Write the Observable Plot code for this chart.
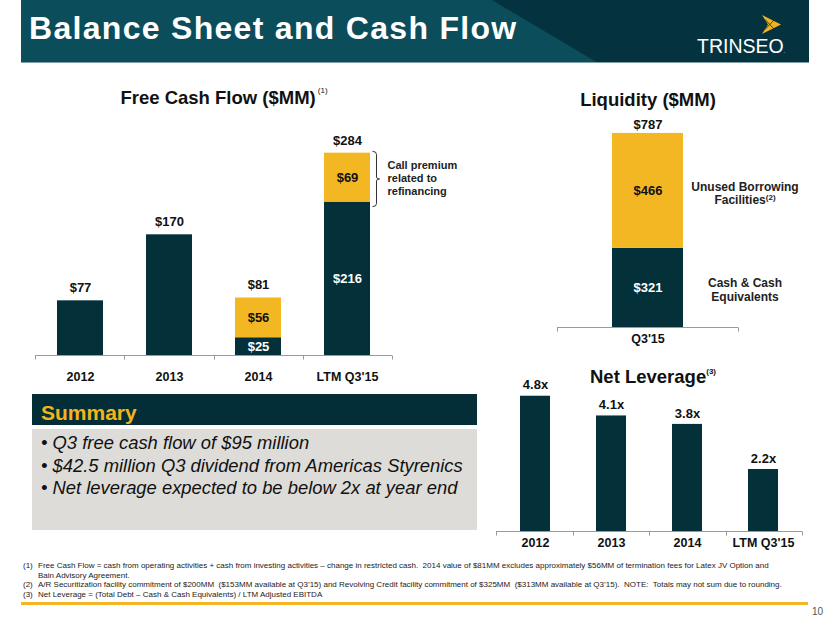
<!DOCTYPE html>
<html>
<head>
<meta charset="utf-8">
<script src="https://cdn.jsdelivr.net/npm/d3@7"></script>
<script src="https://cdn.jsdelivr.net/npm/@observablehq/plot@0.6"></script>
<style>
  body { margin: 0; background: #fff; font-family: Arial, "Liberation Sans", Helvetica, sans-serif; }
  #page { position: relative; width: 830px; height: 623px; overflow: hidden; background: #fff; }
  .abs { position: absolute; }
  .ctitle { position: absolute; font-weight: bold; font-size: 18.5px; color: #111; white-space: nowrap; transform: translate(-50%, -50%); line-height: 1; }
  .ctitle sup { font-size: 8px; font-weight: normal; vertical-align: top; position: relative; top: -2px; margin-left: 2px; }
  .side { position: absolute; font-weight: bold; font-size: 12px; color: #222; text-align: center; white-space: nowrap; transform: translate(-50%, 0); line-height: 13px; }
  .side sup { font-size: 8px; vertical-align: top; position: relative; top: -3px; }
  .fn { white-space: nowrap; }
  .fn .n { display: inline-block; width: 15px; vertical-align: top; }
  .fn .t { display: inline-block; vertical-align: top; }
</style>
</head>
<body>
<div id="page">
  <!-- header banner -->
  <div class="abs" style="left:21px;top:0;width:788px;height:63px;background:#0b4d5b;"></div>
  <div class="abs" style="left:21px;top:0;width:788px;height:63px;background:#04333f;clip-path:polygon(471px 0,788px 0,788px 63px,577px 63px);"></div>
  <div class="abs" style="left:21px;top:62px;width:788px;height:1px;background:#7f9ea6;"></div>
  <div class="abs" style="left:29px;top:10px;font-size:32px;font-weight:bold;color:#fff;letter-spacing:1.3px;line-height:36px;white-space:nowrap;">Balance Sheet and Cash Flow</div>
  <svg class="abs" style="left:762px;top:15px;" width="20" height="19" viewBox="0 0 20 19">
    <polygon points="0,0 19,9.5 0,19 6,9.5" fill="#f2b31b"/>
    <path d="M3,4.5 L12,14 M3,14.5 L12,5" stroke="#04333f" stroke-width="0.8"/>
  </svg>
  <div class="abs" style="left:697px;top:36px;font-size:19.5px;color:#fff;line-height:20px;white-space:nowrap;">TRINSEO<span style="font-size:5px;">.</span></div>

  <div id="fcf" class="abs" style="left:0;top:80px;width:480px;height:310px;"></div>
  <div id="liq" class="abs" style="left:480px;top:80px;width:350px;height:280px;"></div>
  <div id="lev" class="abs" style="left:480px;top:360px;width:350px;height:200px;"></div>

  <div class="ctitle" style="left:224px;top:98px;">Free Cash Flow ($MM)<sup>(1)</sup></div>
  <div class="ctitle" style="left:648px;top:100px;">Liquidity ($MM)</div>
  <div class="ctitle" style="left:653px;top:377px;">Net Leverage<sup style="font-weight:bold;margin-left:0;top:0;">(3)</sup></div>

  <div class="side" style="left:745px;top:181px;">Unused Borrowing<br>Facilities<sup>(2)</sup></div>
  <div class="side" style="left:745px;top:276px;line-height:14px;">Cash &amp; Cash<br>Equivalents</div>

  <!-- summary -->
  <div class="abs" style="left:32px;top:394px;width:445px;height:31px;background:#032d37;"></div>
  <div class="abs" style="left:41px;top:397px;font-size:21px;font-weight:bold;color:#f2b41a;line-height:31px;">Summary</div>
  <div class="abs" style="left:32px;top:429px;width:445px;height:101px;background:#dddcd8;"></div>
  <div class="abs" id="bullets" style="left:41px;top:432px;font-size:18.4px;font-style:italic;color:#111;line-height:22.5px;white-space:nowrap;"></div>

  <!-- footnotes -->
  <div class="abs" id="notes" style="left:23px;top:561px;font-size:8px;color:#222;line-height:9.7px;"></div>
  <div class="abs" style="left:21px;top:602px;width:787px;height:2.5px;background:#f4b526;"></div>
  <div class="abs" style="left:812px;top:606px;font-size:10px;color:#555;">10</div>
</div>

<script>
// ---------- data ----------
const fcfCategories = ["2012", "2013", "2014", "LTM Q3'15"];
const fcfCore = [77, 170, 25, 216];
const fcfOneTime = [0, 0, 56, 69];
const fcfTotals = [77, 170, 81, 284];
const fcfCallout = "Call premium\nrelated to\nrefinancing";

const liqCategories = ["Q3'15"];
const liqCash = [321];
const liqUnused = [466];
const liqTotals = [787];

const levCategories = ["2012", "2013", "2014", "LTM Q3'15"];
const levValues = [4.8, 4.1, 3.8, 2.2];

const summaryBullets = [
  "Q3 free cash flow of $95 million",
  "$42.5 million Q3 dividend from Americas Styrenics",
  "Net leverage expected to be below 2x at year end"
];
const footnotes = [
  ["(1)", "Free Cash Flow = cash from operating activities + cash from investing activities \u2013 change in restricted cash.&nbsp; 2014 value of $81MM excludes approximately $56MM of termination fees for Latex JV Option and<br>Bain Advisory Agreement."],
  ["(2)", "A/R Securitization facility commitment of $200MM&nbsp; ($153MM available at Q3\u201915) and Revolving Credit facility commitment of $325MM&nbsp; ($313MM available at Q3\u201915).&nbsp; NOTE:&nbsp; Totals may not sum due to rounding."],
  ["(3)", "Net Leverage = (Total Debt \u2013 Cash &amp; Cash Equivalents) / LTM Adjusted EBITDA"]
];

// ---------- style ----------
const DARK = "#04303a", GOLD = "#f3b723", AXIS = "#9a9a9a";
const FONT = "Arial, 'Liberation Sans', Helvetica, sans-serif";
const svgStyle = {fontFamily: FONT, fontSize: "12.5px", fontWeight: "bold", color: "#111", background: "transparent", overflow: "visible"};

function baseline(n) {
  return (index, scales, values, dims) => {
    const x0 = dims.marginLeft, x1 = dims.width - dims.marginRight;
    const y0 = dims.height - dims.marginBottom + 0.5;
    const g = d3.create("svg:g").attr("stroke", AXIS).attr("stroke-width", 1).attr("fill", "none");
    g.append("line").attr("x1", x0).attr("x2", x1).attr("y1", y0).attr("y2", y0);
    for (let k = 0; k <= n; k++) {
      const x = Math.round(x0 + (x1 - x0) * k / n) + 0.5;
      g.append("line").attr("x1", x).attr("x2", x).attr("y1", y0).attr("y2", y0 + 4);
    }
    return g.node();
  };
}

// ---------- Free cash flow ----------
const fcfRows = [];
fcfCategories.forEach((c, i) => {
  fcfRows.push({cat: c, seg: "core", v: fcfCore[i]});
  if (fcfOneTime[i] > 0) fcfRows.push({cat: c, seg: "oneTime", v: fcfOneTime[i]});
});
const stackedCats = fcfCategories.filter((c, i) => fcfOneTime[i] > 0);
const fcfInside = fcfRows.filter(d => stackedCats.includes(d.cat));
const calloutIndex = fcfCategories.length - 1;

function bracket(index, scales, values, dims) {
  const n = fcfCategories.length;
  const step = (dims.width - dims.marginLeft - dims.marginRight) / n;
  const xb = Math.round(dims.marginLeft + (calloutIndex + 0.5) * step + 29) + 0.5;
  const yTop = scales.y(fcfTotals[calloutIndex]) - 2;
  const yBot = scales.y(fcfCore[calloutIndex]) + 5;
  const yMid = (yTop + yBot) / 2;
  const p = `M${xb - 4},${yTop} Q${xb},${yTop} ${xb},${yTop + 3} L${xb},${yMid - 2} Q${xb},${yMid} ${xb + 3},${yMid} Q${xb},${yMid} ${xb},${yMid + 2} L${xb},${yBot - 3} Q${xb},${yBot} ${xb - 4},${yBot}`;
  return d3.create("svg:path").attr("d", p).attr("fill", "none").attr("stroke", "#333").attr("stroke-width", 1).node();
}

const fcfPlot = Plot.plot({
  width: 480, height: 310,
  marginLeft: 35, marginRight: 88, marginTop: 62, marginBottom: 35,
  x: {domain: fcfCategories, paddingInner: 0.485, paddingOuter: 0.2425, label: null, tickSize: 0, tickPadding: 17},
  y: {domain: [0, 300], axis: null},
  style: svgStyle,
  marks: [
    Plot.barY(fcfRows, {x: "cat", y: "v", fill: d => d.seg === "core" ? DARK : GOLD}),
    Plot.text(fcfInside, Plot.stackY({x: "cat", y: "v", text: d => "$" + d.v, fill: d => d.seg === "core" ? "#ffffff" : "#111111", fontSize: 13})),
    Plot.text(fcfCategories, {x: d => d, y: (d, i) => fcfTotals[i], text: (d, i) => "$" + fcfTotals[i], dy: -13, fill: "#111", fontSize: 13}),
    Plot.text([fcfCategories[calloutIndex]], {x: d => d, y: () => (fcfCore[calloutIndex] + fcfTotals[calloutIndex]) / 2, text: () => fcfCallout, dx: 40, textAnchor: "start", fontSize: 11, lineHeight: 1.18, fill: "#222"}),
    bracket,
    baseline(fcfCategories.length)
  ]
});
document.getElementById("fcf").appendChild(fcfPlot);

// ---------- Liquidity ----------
const liqRows = [];
liqCategories.forEach((c, i) => {
  liqRows.push({cat: c, seg: "cash", v: liqCash[i]});
  liqRows.push({cat: c, seg: "unused", v: liqUnused[i]});
});
const liqPlot = Plot.plot({
  width: 350, height: 280,
  marginLeft: 77, marginRight: 92, marginTop: 30, marginBottom: 33,
  x: {domain: liqCategories, paddingInner: 0.608, paddingOuter: 0.304, label: null, tickSize: 0, tickPadding: 7},
  y: {domain: [0, 880], axis: null},
  style: svgStyle,
  marks: [
    Plot.barY(liqRows, {x: "cat", y: "v", fill: d => d.seg === "cash" ? DARK : GOLD}),
    Plot.text(liqRows, Plot.stackY({x: "cat", y: "v", text: d => "$" + d.v, fill: d => d.seg === "cash" ? "#ffffff" : "#111111", fontSize: 13})),
    Plot.text(liqCategories, {x: d => d, y: (d, i) => liqTotals[i], text: (d, i) => "$" + liqTotals[i], dy: -9, fill: "#111", fontSize: 13}),
    baseline(liqCategories.length)
  ]
});
document.getElementById("liq").appendChild(liqPlot);

// ---------- Net leverage ----------
const levPlot = Plot.plot({
  width: 350, height: 200,
  marginLeft: 16, marginRight: 28, marginTop: 16, marginBottom: 29,
  x: {domain: levCategories, paddingInner: 0.61, paddingOuter: 0.305, label: null, tickSize: 0, tickPadding: 7},
  y: {domain: [0, 5.5], axis: null},
  style: svgStyle,
  marks: [
    Plot.barY(levCategories, {x: d => d, y: (d, i) => levValues[i], fill: DARK}),
    Plot.text(levCategories, {x: d => d, y: (d, i) => levValues[i], text: (d, i) => levValues[i].toFixed(1) + "x", dy: -11, fill: "#111", fontSize: 13}),
    baseline(levCategories.length)
  ]
});
document.getElementById("lev").appendChild(levPlot);

// ---------- text blocks ----------
document.getElementById("bullets").innerHTML = summaryBullets.map(b => "\u2022 " + b.replace(/\$/g, "&#36;")).join("<br>");
document.getElementById("notes").innerHTML = footnotes.map(([n, t]) => `<div class="fn"><span class="n">${n}</span><span class="t">${t}</span></div>`).join("");
</script>
</body>
</html>
